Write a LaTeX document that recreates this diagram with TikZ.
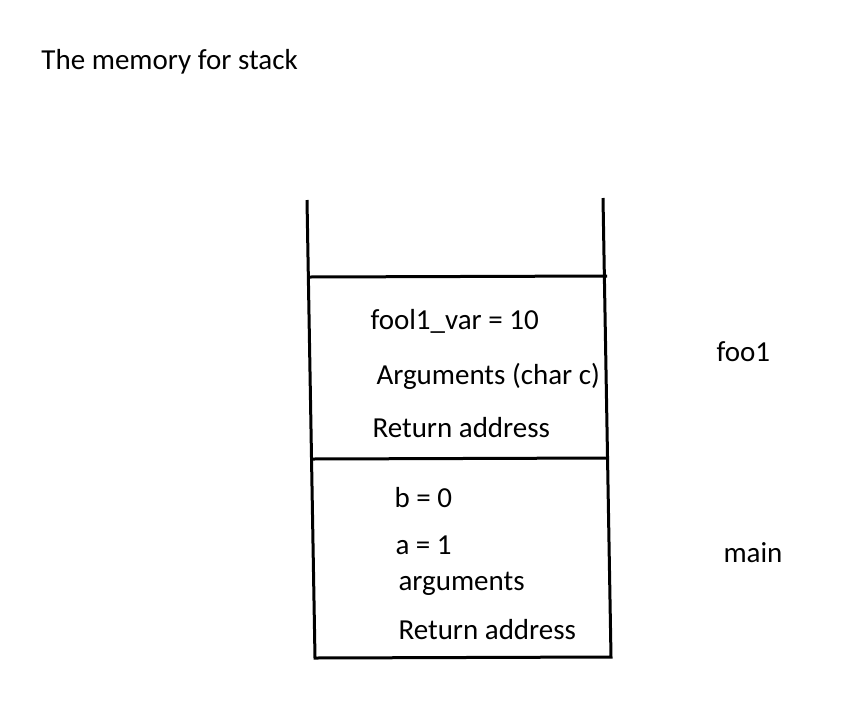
\documentclass[tikz,border=0pt]{standalone}
\usepackage{fontspec}
\setmainfont{Carlito}
\begin{document}
\begin{tikzpicture}[x=1pt,y=-1pt,line width=3pt,every node/.style={anchor=base west,inner sep=0pt,font=\fontsize{29}{34}\selectfont}]
\useasboundingbox (0,0) rectangle (868,716);
\node (title) at (40,69) {The memory for stack};
% stack walls and frame borders
\coordinate (tl) at (307,200);\coordinate (bl) at (315,658);
\coordinate (tr) at (603,198);\coordinate (br) at (611,657);
\coordinate (al) at (309,277);\coordinate (ar) at (607,276);
\coordinate (ml) at (312,459);\coordinate (mr) at (608,458);
\draw (tl)--(bl)--(br)--(tr);
\draw (al)--(ar);\draw (ml)--(mr);
% frame of foo1
\node (fvar) at (369,329) {fool1\_var = 10};
\node (farg) at (375,384) {Arguments (char c)};
\node (fret) at (371,437) {Return address};
\node (foo) at (715,361) {foo1};
% frame of main
\node (mb) at (393,507) {b = 0};
\node (ma) at (394,554) {a = 1};
\node (marg) at (397,590) {arguments};
\node (mret) at (397,639) {Return address};
\node (main) at (722,562) {main};
\end{tikzpicture}
\end{document}
